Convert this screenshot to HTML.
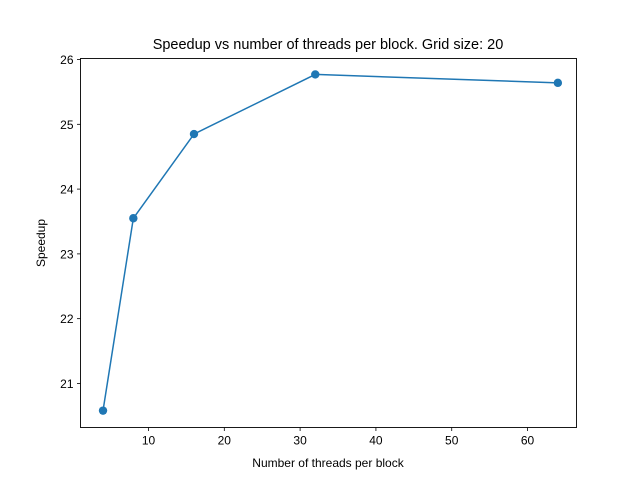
<!DOCTYPE html>
<html><head><meta charset="utf-8"><style>body{margin:0;background:#fff}svg{display:block;font-family:"Liberation Sans","DejaVu Sans",sans-serif}</style></head>
<body>
<svg id="chart" width="640" height="480">
<rect width="640" height="480" fill="#fff"/>
<text x="328" y="49" font-size="14.5" text-anchor="middle">Speedup vs number of threads per block. Grid size: 20</text>
<g id="ticks"></g>
<g id="marks"></g>
<rect x="80.5" y="58.5" width="496" height="369" fill="none" stroke="#000" stroke-width="0.9"/>
<text x="328" y="467" font-size="12" text-anchor="middle">Number of threads per block</text>
<text transform="translate(45,243) rotate(-90)" font-size="12" text-anchor="middle">Speedup</text>
</svg>
<script>
const threads = [4, 8, 16, 32, 64];
const speedup = [20.58, 23.55, 24.85, 25.77, 25.64];
const xTicks = [10, 20, 30, 40, 50, 60];
const yTicks = [21, 22, 23, 24, 25, 26];
const L=80.5,R=576.5,T=58.5,B=427.5;
const xmin=1.03,xmax=66.46,ymin=20.32,ymax=26.016;
const sx=v=>L+(v-xmin)/(xmax-xmin)*(R-L);
const sy=v=>B-(v-ymin)/(ymax-ymin)*(B-T);
const NS="http://www.w3.org/2000/svg";
const tg=document.getElementById('ticks'), mg=document.getElementById('marks');
function mk(tag,attrs,parent){const e=document.createElementNS(NS,tag);for(const k in attrs)e.setAttribute(k,attrs[k]);parent.appendChild(e);return e;}
xTicks.forEach(t=>{const x=sx(t);
 const l=mk('line',{x1:x,x2:x,y1:B,y2:B+3.5,stroke:'#000','stroke-width':0.8},tg);
 
 
 const tx=mk('text',{x:x,y:B+17,'font-size':12,'text-anchor':'middle'},tg);tx.textContent=t;
 
 });
yTicks.forEach(t=>{const y=sy(t);
 const l=mk('line',{x1:L-3.5,x2:L,y1:y,y2:y,stroke:'#000','stroke-width':0.8},tg);
 
 
 const tx=mk('text',{x:L-7,y:y+4.5,'font-size':12,'text-anchor':'end'},tg);tx.textContent=t;
 
 });
const pts=threads.map((t,i)=>sx(t)+','+sy(speedup[i])).join(' ');
const pl=mk('polyline',{points:pts,fill:'none',stroke:'#1f77b4','stroke-width':1.5},mg);


threads.forEach((t,i)=>{const c=mk('circle',{cx:sx(t),cy:sy(speedup[i]),r:4.2,fill:'#1f77b4'},mg);
 
 });
</script>
</body></html>
